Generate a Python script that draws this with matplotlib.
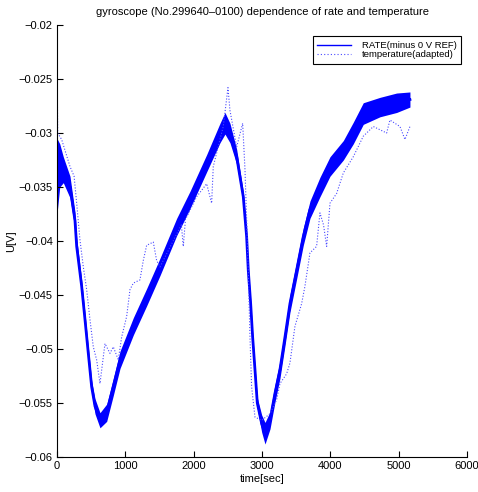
import matplotlib
matplotlib.use("Agg")
import matplotlib.pyplot as plt
from matplotlib.lines import Line2D
import numpy as np

# RATE (minus 0 V REF): time [sec], centre value and band half-width [V]
rate_t = [0, 40, 92, 190, 263, 288, 361, 410, 458, 507, 556, 629, 727, 824, 922,
          1117, 1312, 1507, 1751, 1946, 2190, 2385, 2458, 2531, 2629, 2726, 2775,
          2799, 2834, 2863, 2897, 2931, 2995, 3044, 3117, 3190, 3263, 3336, 3409,
          3507, 3604, 3702, 3848, 3995, 4190, 4336, 4482, 4726, 4970, 5165]
rate_v = [-0.0340, -0.0330, -0.0334, -0.0350, -0.0381, -0.0405, -0.0442, -0.0473,
          -0.0504, -0.0535, -0.0553, -0.0566, -0.0559, -0.0535, -0.0510,
          -0.0479, -0.0452, -0.0424, -0.0387, -0.0362, -0.0328, -0.0300, -0.0291,
          -0.0300, -0.0322, -0.0359, -0.0396, -0.0427, -0.0458, -0.0489, -0.0519,
          -0.0550, -0.0569, -0.0578, -0.0566, -0.0541, -0.0519, -0.0489, -0.0458,
          -0.0427, -0.0396, -0.0371, -0.0350, -0.0331, -0.0316, -0.0300, -0.0282,
          -0.0276, -0.0272, -0.0269]
rate_w = [0.0035, 0.0020, 0.0012, 0.0010, 0.0008, 0.0008, 0.0006, 0.0006,
          0.0006, 0.0006, 0.0007, 0.0007, 0.0008, 0.0008, 0.0008,
          0.0008, 0.0008, 0.0008, 0.0008, 0.0008, 0.0008, 0.0009, 0.0010,
          0.0009, 0.0007, 0.0005, 0.0004, 0.0004, 0.0004, 0.0004, 0.0004,
          0.0005, 0.0008, 0.0010, 0.0008, 0.0008, 0.0008, 0.0008, 0.0008,
          0.0008, 0.0008, 0.0008, 0.0009, 0.0009, 0.0009, 0.0010, 0.0010,
          0.0009, 0.0009, 0.0007]

# temperature (adapted)
temp_t = [0, 10, 68, 190, 250, 288, 336, 385, 434, 483, 531, 580, 629, 702, 775,
          824, 897, 946, 1019, 1068, 1117, 1214, 1263, 1312, 1409, 1458, 1507,
          1700, 1820, 1848, 1880, 2044, 2190, 2263, 2287, 2433, 2502, 2531, 2629,
          2717, 2751, 2775, 2799, 2824, 2848, 2897, 2995, 3117, 3214, 3263, 3360,
          3409, 3482, 3580, 3628, 3702, 3799, 3848, 3900, 3946, 3995, 4092, 4190,
          4336, 4482, 4629, 4824, 4872, 5019, 5092, 5165]
temp_v = [-0.0225, -0.0300, -0.0306, -0.0331, -0.0340, -0.0365, -0.0399, -0.0424,
          -0.0445, -0.0473, -0.0498, -0.0510, -0.0532, -0.0495, -0.0504,
          -0.0498, -0.0510, -0.0489, -0.0470, -0.0445, -0.0439, -0.0436, -0.0418,
          -0.0404, -0.0401, -0.0418, -0.0424,
          -0.0400, -0.0385, -0.0405, -0.0380, -0.0359, -0.0347, -0.0365, -0.0331,
          -0.0294, -0.0258, -0.0279, -0.0313,
          -0.0291, -0.0334, -0.0380, -0.0427, -0.0489, -0.0535, -0.0563, -0.0566,
          -0.0560, -0.0547, -0.0532, -0.0523,
          -0.0513, -0.0479, -0.0458, -0.0442, -0.0411, -0.0405, -0.0374, -0.0385,
          -0.0405, -0.0365, -0.0356, -0.0337,
          -0.0322, -0.0303, -0.0294, -0.0300, -0.0288, -0.0294, -0.0306, -0.0294]

x_ticks = [0, 1000, 2000, 3000, 4000, 5000, 6000]
y_ticks = [-0.06, -0.055, -0.05, -0.045, -0.04, -0.035, -0.03, -0.025, -0.02]
y_tick_labels = ["\u22120.06", "\u22120.055", "\u22120.05", "\u22120.045", "\u22120.04",
                 "\u22120.035", "\u22120.03", "\u22120.025", "\u22120.02"]

plt.rcParams['font.family'] = ['Liberation Sans Narrow', 'Liberation Sans', 'DejaVu Sans']

fig = plt.figure(figsize=(4.78, 4.92), dpi=100)
ax = fig.add_axes([57 / 478, 35 / 492, 410 / 478, 432 / 492])

rt = np.array(rate_t)
rv = np.array(rate_v)
rw = np.array(rate_w)
ax.fill_between(rt, rv - rw, rv + rw, color='#0000ff', linewidth=0)
ax.plot(rt, rv, color='#0000ff', linewidth=2.0)
ax.plot(temp_t, temp_v, color='#4a4aff', linestyle=(0, (1, 1.6)), linewidth=0.8)

ax.set_xlim(0, 6000)
ax.set_ylim(-0.06, -0.02)
ax.set_xticks(x_ticks)
ax.set_xticklabels([str(v) for v in x_ticks])
ax.set_yticks(y_ticks)
ax.set_yticklabels(y_tick_labels)
ax.tick_params(direction='in', length=4, width=0.8, labelsize=8, pad=3)
ax.spines['top'].set_visible(False)
ax.spines['right'].set_visible(False)

ax.set_title('gyroscope (No.299640\u20130100) dependence of rate and temperature',
             fontsize=8, pad=7)
ax.set_xlabel('time[sec]', fontsize=8, labelpad=2)
ax.set_ylabel('U[V]', fontsize=8, labelpad=2)

handles = [Line2D([], [], color='#0000ff', linewidth=1.0),
           Line2D([], [], color='#4a4aff', linestyle=(0, (1, 2)), linewidth=0.8)]
leg = ax.legend(handles, ['RATE(minus 0 V REF)', 'temperature(adapted)'],
                loc='upper right', bbox_to_anchor=(0.998, 0.985), fontsize=6.8,
                frameon=True, fancybox=False, edgecolor='black', framealpha=1,
                handlelength=3.5, handletextpad=1.2, borderpad=0.5, labelspacing=0.05)
leg.get_frame().set_linewidth(0.8)

fig.savefig('out.png', dpi=100)
